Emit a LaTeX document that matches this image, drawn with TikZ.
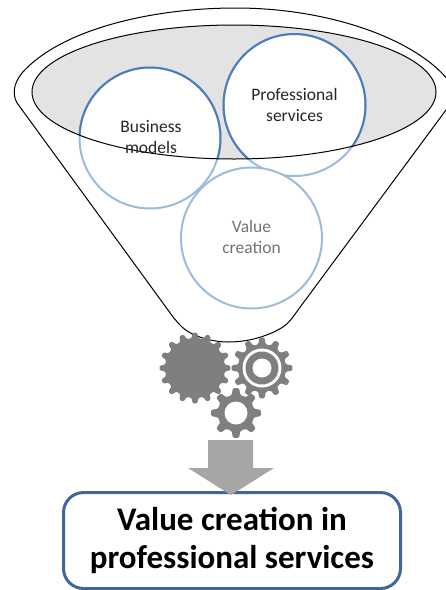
\documentclass[tikz,border=0pt]{standalone}
\usepackage{fontspec}
\setmainfont{Carlito}
\definecolor{ringdark}{HTML}{4A7EBB}
\definecolor{ringlight}{HTML}{9DBBDD}
\definecolor{gearcol}{HTML}{7F7F7F}
\definecolor{arrowcol}{HTML}{A6A6A6}
\definecolor{boxline}{HTML}{3F6797}
\definecolor{mouthfill}{HTML}{E3E3E3}
\newcommand{\gearshape}[5]{% cx cy outer root teeth
  \pgfmathsetmacro{\st}{360/#5}
  \fill[gearcol,rounded corners=1.2pt]
  ({#1+#4*cos(0.5*\st)},{#2+#4*sin(0.5*\st)})
  \foreach \i in {1,...,#5}{
    -- ({#1+#4*cos(\i*\st-0.30*\st)},{#2+#4*sin(\i*\st-0.30*\st)})
    -- ({#1+#3*cos(\i*\st-0.16*\st)},{#2+#3*sin(\i*\st-0.16*\st)})
    -- ({#1+#3*cos(\i*\st+0.16*\st)},{#2+#3*sin(\i*\st+0.16*\st)})
    -- ({#1+#4*cos(\i*\st+0.30*\st)},{#2+#4*sin(\i*\st+0.30*\st)})
  } -- cycle;
}
\tikzset{
  lbl/.style={font=\fontsize{17.5}{21}\selectfont,align=center,text=black!85,inner sep=0pt},
  ring/.style={line width=2pt},
}
\begin{document}
\begin{tikzpicture}[x=1pt,y=-1pt]
\useasboundingbox (0,0) rectangle (446,590);
\clip (0,0) rectangle (446,590);
% funnel
\draw[black,line width=1pt,fill=white]
  (20,107) .. controls (11,97) and (13,84) .. (22,73)
  .. controls (60,30) and (150,8) .. (236,8)
  .. controls (330,8) and (420,40) .. (452,85)
  .. controls (453,92) and (450,104) .. (446,110)
  -- (298,310) .. controls (293,317) and (290,322) .. (283,327)
  .. controls (265,338) and (245,342) .. (228,342)
  .. controls (210,342) and (190,335) .. (182,327)
  .. controls (175,320) and (173,317) .. (168,310) -- cycle;
% mouth
\path[fill=mouthfill] (234,92) ellipse [x radius=202,y radius=67];
% circles
\node[circle,draw=ringlight,ring,fill=white,minimum size=141pt,inner sep=0pt] (bm) at (150,138) {};
\node[circle,draw=ringlight,ring,fill=white,minimum size=142pt,inner sep=0pt] (ps) at (294.5,105) {};
\node[circle,draw=ringlight,ring,fill=white,minimum size=141pt,inner sep=0pt] (vc) at (251.5,238) {};
\begin{scope}
  \clip (234,92) ellipse [x radius=202,y radius=67];
  \draw[ringdark,ring] (bm.center) circle [radius=70.5];
  \draw[ringdark,ring] (ps.center) circle [radius=71];
\end{scope}
\draw[black,line width=1pt] (234,92) ellipse [x radius=202,y radius=67];
\node[lbl] (bmt) at (151,137.5) {Business\\models};
\node[lbl] (pst) at (294.5,105) {Professional\\services};
\node[lbl,text=black!55] (vct) at (251.5,237) {Value\\creation};
% gears
\gearshape{195}{368}{35.5}{30}{16}
\gearshape{262}{368}{30.5}{24}{12}
\fill[white] (262,368) circle [radius=19.5];
\fill[gearcol] (262,368) circle [radius=16.5];
\fill[white] (262,368) circle [radius=9.5];
\gearshape{236}{413}{25}{18.5}{8}
\fill[white] (236,413) circle [radius=11.5];
% result box
\node[draw=boxline,line width=3pt,fill=white,rounded corners=20pt,minimum width=337pt,minimum height=96pt,inner sep=0pt,align=center,
  font=\fontsize{33}{38.5}\selectfont\bfseries] (res) at (232,540.5) {Value creation in\\professional services};
% arrow
\fill[arrowcol] (208,440) -- (253,440) -- (253,468) -- (274,468) -- (231,495) -- (188,468) -- (208,468) -- cycle;
\end{tikzpicture}
\end{document}
